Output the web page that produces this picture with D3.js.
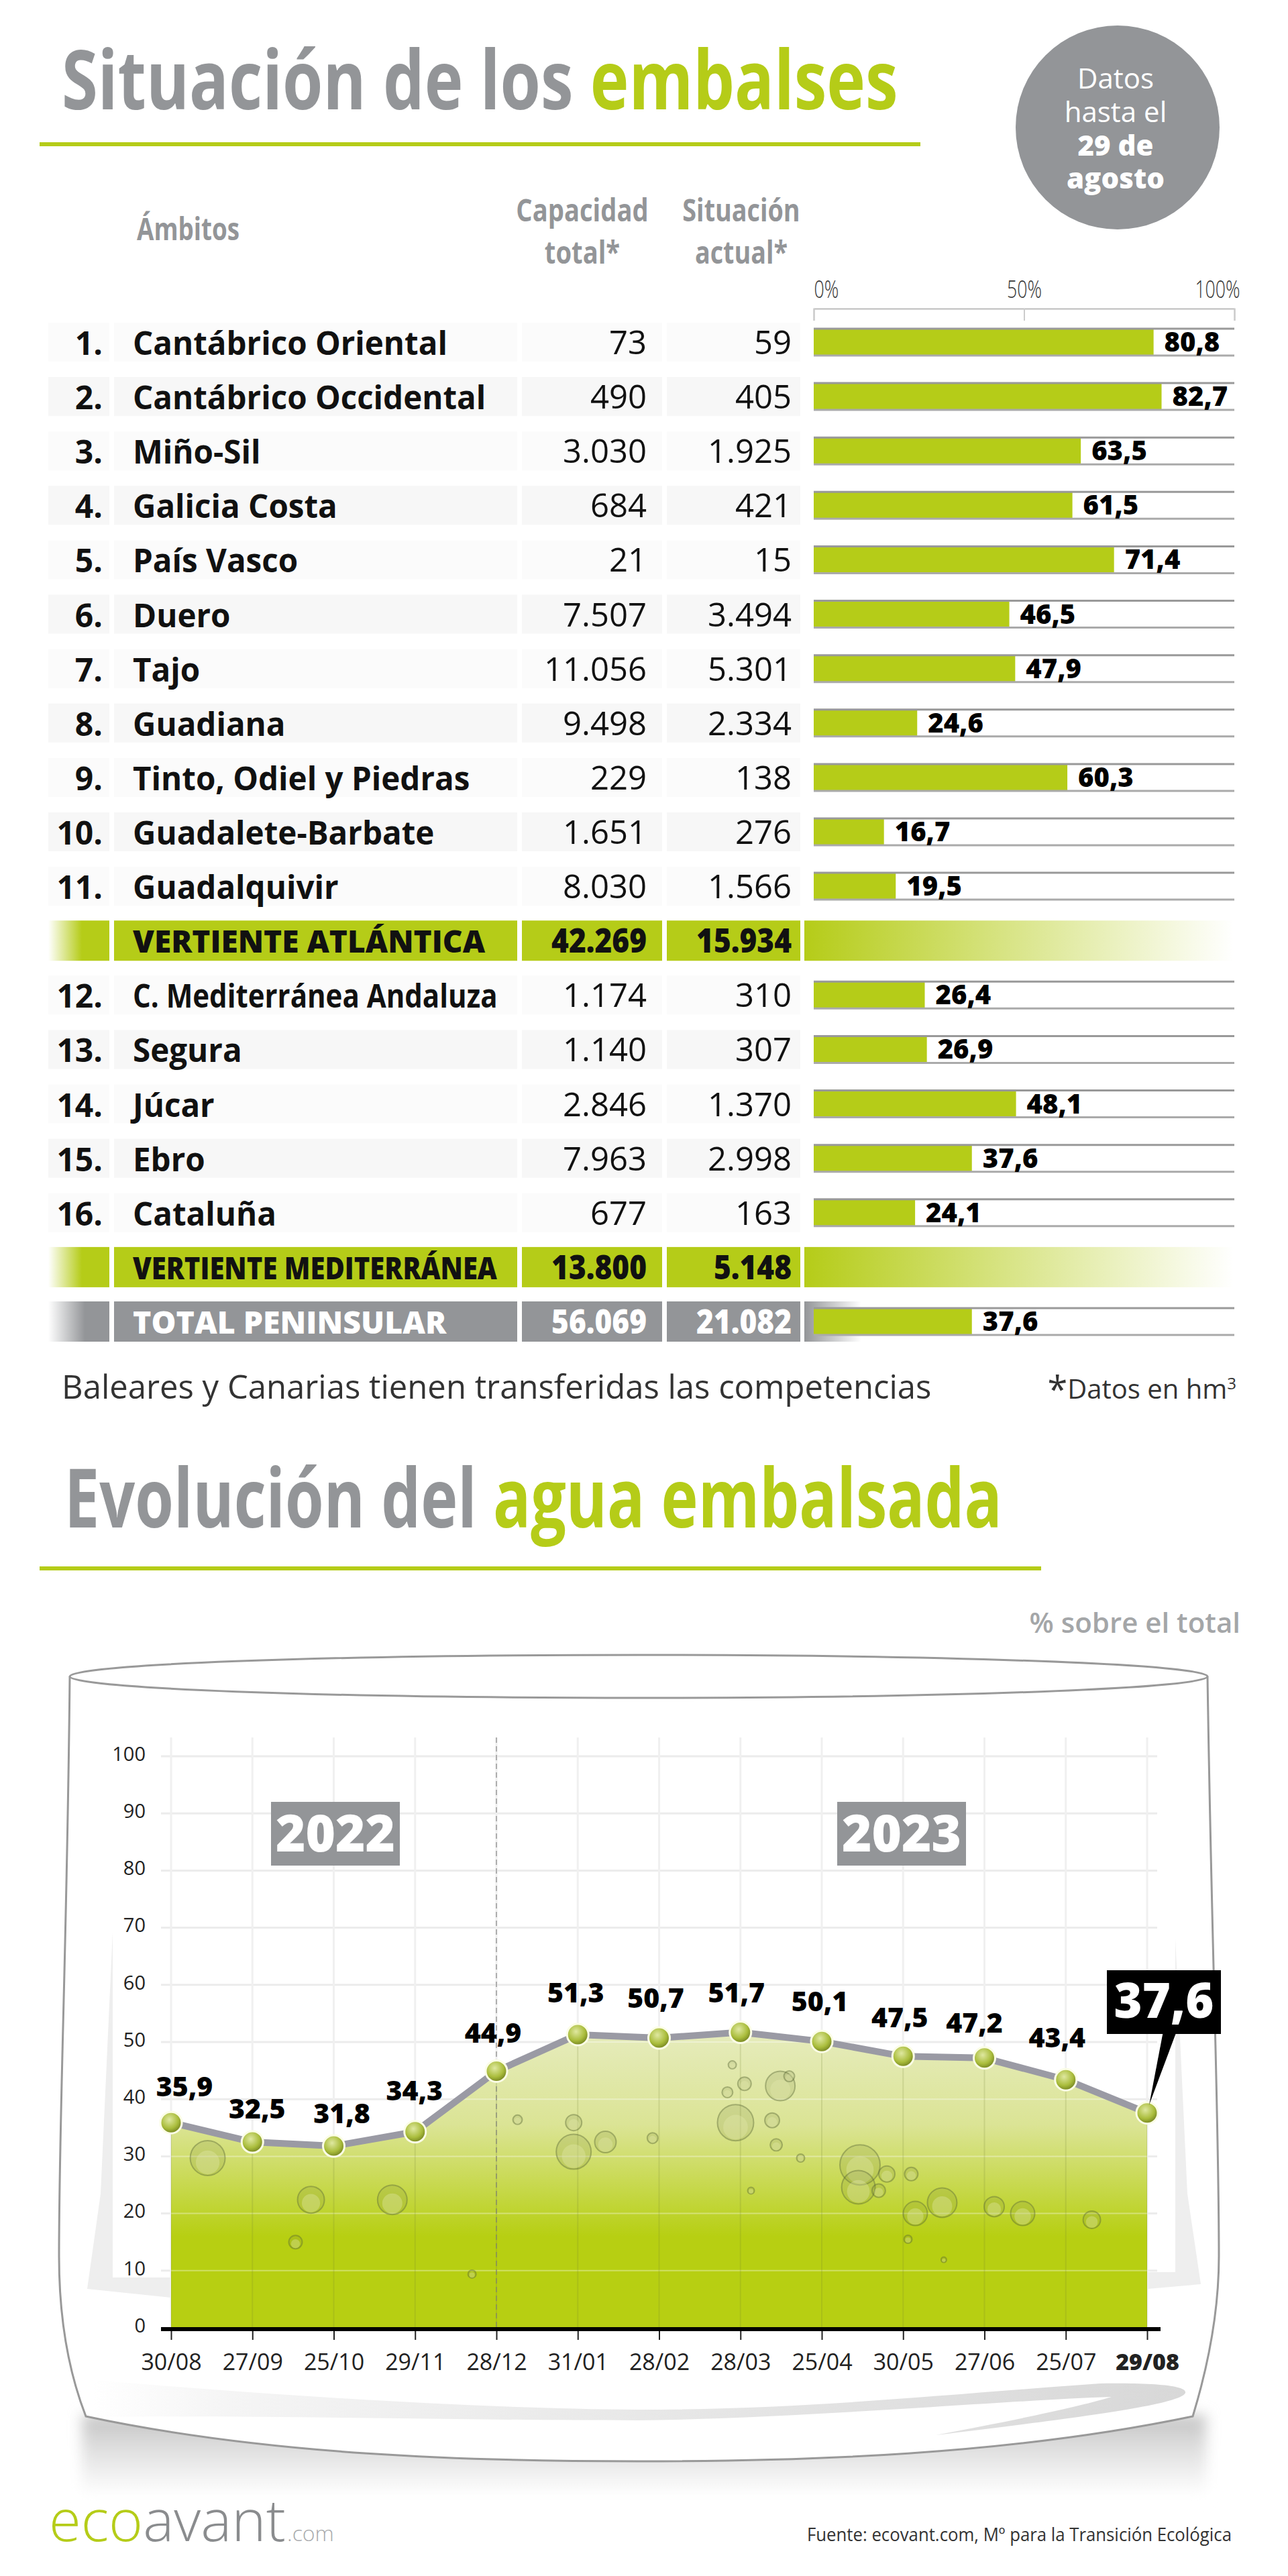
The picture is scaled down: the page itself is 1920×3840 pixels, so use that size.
<!DOCTYPE html>
<html>
<head>
<meta charset="utf-8">
<script src="https://cdn.jsdelivr.net/npm/d3@7"></script>
<style>
  html, body { margin: 0; padding: 0; background: #fff; }
  svg { display: block; }
  text { font-family: "Open Sans", sans-serif; }
</style>
</head>
<body>
<script>
// table data
var numeros = ["1.","2.","3.","4.","5.","6.","7.","8.","9.","10.","11.","","12.","13.","14.","15.","16.","",""];
var ambitos = ["Cantábrico Oriental","Cantábrico Occidental","Miño-Sil","Galicia Costa","País Vasco","Duero","Tajo","Guadiana","Tinto, Odiel y Piedras","Guadalete-Barbate","Guadalquivir","VERTIENTE ATLÁNTICA","C. Mediterránea Andaluza","Segura","Júcar","Ebro","Cataluña","VERTIENTE MEDITERRÁNEA","TOTAL PENINSULAR"];
var capacidad = [73,490,3030,684,21,7507,11056,9498,229,1651,8030,42269,1174,1140,2846,7963,677,13800,56069];
var actual = [59,405,1925,421,15,3494,5301,2334,138,276,1566,15934,310,307,1370,2998,163,5148,21082];
var porcentaje = [80.8,82.7,63.5,61.5,71.4,46.5,47.9,24.6,60.3,16.7,19.5,null,26.4,26.9,48.1,37.6,24.1,null,37.6];
var tipoFila = ["n","n","n","n","n","n","n","n","n","n","n","v","n","n","n","n","n","v","t"];

// evolution data
var fechas = ["30/08","27/09","25/10","29/11","28/12","31/01","28/02","28/03","25/04","30/05","27/06","25/07","29/08"];
var agua = [35.9,32.5,31.8,34.3,44.9,51.3,50.7,51.7,50.1,47.5,47.2,43.4,37.6];
var anios = ["2022","2023"];

// bubbles in the water: position in date steps, % level, radius
var burbujaPos = [.45,1.72,2.72,1.53,4.95,5.34,4.95,4.26,5.92,6.94,7.39,7.44,7.49,6.84,7.05,7.74,8.47,8.45,8.8,8.7,9.1,9.48,9.15,10.12,10.47,11.32,9.06,7.13,3.7,9.5,6.9,7.6];
var burbujaNivel = [29.7,22.4,22.4,15,30.8,32.5,35.9,36.4,33.2,35.9,36.3,32,42.3,41.2,42.7,29.7,28.5,24.6,26.9,24,26.9,21.9,20,21.2,20,18.9,15.5,24,9.4,11.9,46,44];
var burbujaRadio = [26,20,22,10,26,16,12,7,8,27,11,9,22,8,10,6,30,25,12,10,10,22,18,15,18,13,6,5,6,4,6,8];

var VERDE = "#b5cc18", GRIS = "#939598", NEGRO = "#111";
var locale = d3.formatLocale({decimal: ",", thousands: ".", grouping: [3], currency: ["", "€"]});
var fmtMiles = locale.format(",d"), fmtPct = locale.format(".1f");

var svg = d3.select("body").append("svg").attr("width", 1920).attr("height", 3840);
var defs = svg.append("defs");

// squeeze a text horizontally, the original uses a condensed cut
function squeeze(sel, factor) {
    sel.each(function() {
        var len = this.getComputedTextLength();
        d3.select(this).attr("textLength", len * factor).attr("lengthAdjust", "spacingAndGlyphs");
    });
    return sel;
}

function addText(parent, x, y, txt, size, weight, fill, anchor) {
    return parent.append("text").attr("x", x).attr("y", y).text(txt)
        .attr("font-size", size).attr("font-weight", weight).attr("fill", fill)
        .attr("text-anchor", anchor || "start");
}

// two coloured title in a single text
function addTitle(x, y, gris, verde, factor) {
    var t = addText(svg, x, y, "", 122, 700, GRIS);
    t.append("tspan").text(gris + " ");
    t.append("tspan").attr("fill", VERDE).text(verde);
    return squeeze(t, factor);
}

function hGradient(id, stops) {
    var g = defs.append("linearGradient").attr("id", id);
    stops.forEach(function(s) {
        g.append("stop").attr("offset", s[0]).attr("stop-color", s[1]).attr("stop-opacity", s[2]);
    });
}
hGradient("fadeVerde", [[0, VERDE, 1], [1, VERDE, 0]]);
hGradient("fadeVerdeIzq", [[0, VERDE, 0], [.55, VERDE, 1], [1, VERDE, 1]]);
hGradient("fadeGris", [[0, GRIS, 1], [1, GRIS, 0]]);
hGradient("fadeGrisIzq", [[0, GRIS, 0], [.6, GRIS, 1], [1, GRIS, 1]]);
hGradient("estela", [[0, "#ffffff", 1], [.12, "#f5f5f5", 1], [.5, "#e8e8e8", 1], [1, "#d8d8d8", 1]]);

/* ---------- titles ---------- */
addTitle(92, 163, "Situación de los", "embalses", 0.8);
svg.append("rect").attr("x", 59).attr("y", 212).attr("width", 1313).attr("height", 6).attr("fill", VERDE);

svg.append("circle").attr("cx", 1666).attr("cy", 190).attr("r", 152).attr("fill", GRIS);
addText(svg, 1663, 132, "Datos", 42, 400, "#fff", "middle");
addText(svg, 1663, 182, "hasta el", 42, 400, "#fff", "middle");
addText(svg, 1663, 232, "29 de", 42, 800, "#fff", "middle");
addText(svg, 1663, 281, "agosto", 42, 800, "#fff", "middle");

/* ---------- table ---------- */
squeeze(addText(svg, 204, 358, "Ámbitos", 46, 700, GRIS), 0.8);
squeeze(addText(svg, 868, 330, "Capacidad", 46, 700, GRIS, "middle"), 0.83);
squeeze(addText(svg, 868, 393, "total*", 46, 700, GRIS, "middle"), 0.83);
squeeze(addText(svg, 1105, 330, "Situación", 46, 700, GRIS, "middle"), 0.82);
squeeze(addText(svg, 1105, 393, "actual*", 46, 700, GRIS, "middle"), 0.82);

var xBar = d3.scaleLinear().domain([0, 100]).range([1213, 1840]);
var yRow = d3.scalePoint().domain(d3.range(ambitos.length)).range([510, 1970]);

var axisBar = svg.append("g").attr("transform", "translate(0,460)")
    .call(d3.axisTop(xBar).tickValues([0, 50, 100]).tickSize(-18).tickFormat(function(d) { return d + "%"; }));
axisBar.selectAll("path").attr("stroke", "#bbb").attr("stroke-width", 2);
axisBar.selectAll("line").attr("stroke", "#ccc").attr("stroke-width", 2);
axisBar.selectAll("text")
    .attr("y", -16).attr("font-size", 36).attr("font-weight", 300).attr("fill", "#333")
    .attr("font-family", '"Open Sans", sans-serif')
    .attr("text-anchor", function(d) { return d === 0 ? "start" : d === 50 ? "middle" : "end"; })
    .attr("x", function(d) { return d === 0 ? 0 : d === 50 ? 0 : 8; })
    .call(squeeze, 0.74);

var filas = svg.append("g").selectAll("g").data(ambitos).join("g")
    .attr("transform", function(d, i) { return "translate(0," + yRow(i) + ")"; });

// table cells behind the text
var celdas = [[72, 91], [170, 601], [778, 209], [994, 199]];
filas.each(function(d, i) {
    var g = d3.select(this), tipo = tipoFila[i];
    var h = tipo === "n" ? 58 : 60;
    var color = tipo === "v" ? VERDE : tipo === "t" ? GRIS : (i % 2 ? "#f7f7f7" : "#fbfbfb");
    celdas.forEach(function(c, k) {
        g.append("rect").attr("x", c[0]).attr("y", -h / 2).attr("width", c[1]).attr("height", h)
            .attr("fill", (k === 0 && tipo === "v") ? "url(#fadeVerdeIzq)" : (k === 0 && tipo === "t") ? "url(#fadeGrisIzq)" : color);
    });
    if (tipo === "v") {
        g.append("rect").attr("x", 1199).attr("y", -30).attr("width", 640).attr("height", 60).attr("fill", "url(#fadeVerde)");
    }
    if (tipo === "t") {
        g.append("rect").attr("x", 1199).attr("y", -30).attr("width", 85).attr("height", 60).attr("fill", "url(#fadeGris)");
    }
    var colorTexto = tipo === "t" ? "#fff" : NEGRO;
    if (tipo === "n") {
        addText(g, 153, 19, numeros[i], 48, 700, NEGRO, "end");
        addText(g, 198, 19, d, 48, 700, NEGRO).call(squeeze, i === 12 ? 0.875 : 0.99);
    } else {
        var rotulo = addText(g, 198, 18, d, 46, 800, colorTexto);
        squeeze(rotulo, tipo === "t" ? 1.01 : i === 11 ? 1 : 0.87);
    }
    addText(g, 964, 18, fmtMiles(capacidad[i]), 49, tipo === "n" ? 400 : 800, colorTexto, "end")
        .call(squeeze, tipo === "n" ? 1 : 0.9);
    addText(g, 1180, 18, fmtMiles(actual[i]), 49, tipo === "n" ? 400 : 800, colorTexto, "end")
        .call(squeeze, tipo === "n" ? 1 : 0.9);

    if (porcentaje[i] !== null) {
        g.append("rect").attr("x", xBar(0)).attr("y", -20).attr("width", xBar(100) - xBar(0)).attr("height", 40).attr("fill", "#fff");
        g.append("rect").attr("x", xBar(0)).attr("y", -20).attr("width", xBar(porcentaje[i]) - xBar(0)).attr("height", 40).attr("fill", VERDE);
        g.append("line").attr("x1", xBar(0)).attr("x2", xBar(100)).attr("y1", -20).attr("y2", -20).attr("stroke", "#999").attr("stroke-width", 3);
        g.append("line").attr("x1", xBar(0)).attr("x2", xBar(100)).attr("y1", 20).attr("y2", 20).attr("stroke", "#aaa").attr("stroke-width", 3);
        addText(g, xBar(porcentaje[i]) + 16, 14, fmtPct(porcentaje[i]), 40, 800, "#000");
    }
});

addText(svg, 92, 2085, "Baleares y Canarias tienen transferidas las competencias", 49, 400, "#333");
var nota = addText(svg, 1843, 2085, "", 40, 400, "#333", "end");
nota.append("tspan").attr("font-size", 54).attr("dy", 6).text("*");
nota.append("tspan").attr("dy", -6).text("Datos en hm");
nota.append("tspan").attr("font-size", 24).attr("dy", -14).text("3");

/* ---------- second title ---------- */
addTitle(96, 2277, "Evolución del", "agua embalsada", 0.764);
svg.append("rect").attr("x", 59).attr("y", 2335).attr("width", 1493).attr("height", 6).attr("fill", VERDE);
addText(svg, 1849, 2434, "% sobre el total", 42, 600, "#a4a6a8", "end");

/* ---------- glass ---------- */
var sombra = defs.append("linearGradient").attr("id", "sombra").attr("x1", 0).attr("x2", 0).attr("y1", 0).attr("y2", 1);
sombra.append("stop").attr("offset", 0).attr("stop-color", "#c2c2c2");
sombra.append("stop").attr("offset", .4).attr("stop-color", "#dedede");
sombra.append("stop").attr("offset", 1).attr("stop-color", "#fff");
var blur = defs.append("filter").attr("id", "difuso").attr("x", "-5%").attr("y", "-20%").attr("width", "110%").attr("height", "140%");
blur.append("feGaussianBlur").attr("stdDeviation", 10);
svg.append("rect").attr("x", 122).attr("y", 3600).attr("width", 1676).attr("height", 120)
    .attr("fill", "url(#sombra)").attr("filter", "url(#difuso)");
svg.append("path").attr("fill", "#fff").attr("stroke", "#999").attr("stroke-width", 3)
    .attr("d", "M104,2499 C100,2900 88,3150 88,3363 C88,3450 100,3530 128,3602 C400,3660 700,3669 952,3669 C1200,3669 1500,3660 1778,3602 C1800,3530 1817,3450 1817,3363 C1817,3150 1806,2900 1800,2499");
// inner glass reflections
svg.append("path").attr("fill", "#eeeeee")
    .attr("d", "M168,2880 L150,3270 L130,3412 L255,3425 L255,3395 L168,3395 Z");
svg.append("path").attr("fill", "#eeeeee")
    .attr("d", "M1752,2890 L1752,3387 L1711,3387 L1711,3412 L1790,3405 L1770,3270 Z");
svg.append("path").attr("fill", "url(#estela)")
    .attr("d", "M140,3548 C400,3570 700,3590 950,3592 C1200,3592 1400,3570 1640,3553 C1720,3552 1770,3556 1767,3567 C1760,3585 1600,3605 1395,3630 C1500,3610 1600,3590 1657,3573 C1500,3578 1200,3605 950,3608 C700,3608 400,3600 140,3603 Z");
svg.append("ellipse").attr("cx", 952).attr("cy", 2499).attr("rx", 848).attr("ry", 32)
    .attr("fill", "#fff").attr("stroke", "#999").attr("stroke-width", 3);

/* ---------- evolution chart ---------- */
var x = d3.scalePoint().domain(fechas).range([255, 1710]);
var xPaso = d3.scaleLinear().domain([0, fechas.length - 1]).range([255, 1710]);
var y = d3.scaleLinear().domain([0, 100]).range([3470, 2618]);

var degr = defs.append("linearGradient").attr("id", "agua").attr("gradientUnits", "userSpaceOnUse")
    .attr("x1", 0).attr("x2", 0).attr("y1", y(55)).attr("y2", y(16));
degr.append("stop").attr("offset", 0).attr("stop-color", "#e8edc4");
degr.append("stop").attr("offset", .5).attr("stop-color", "#dbe495");
degr.append("stop").attr("offset", 1).attr("stop-color", "#b7cf12");

var area = d3.area().x(function(d, i) { return x(fechas[i]); }).y0(y(0)).y1(function(d) { return y(d); });
var linea = d3.line().x(function(d, i) { return x(fechas[i]); }).y(function(d) { return y(d); });

function drawGrid(parent, colorH, colorV, ancho) {
    parent.append("g").selectAll("line").data(d3.range(0, 101, 10)).join("line")
        .attr("x1", 240).attr("x2", 1725)
        .attr("y1", function(d) { return y(d); }).attr("y2", function(d) { return y(d); })
        .attr("stroke", colorH).attr("stroke-width", ancho);
    parent.append("g").selectAll("line").data(fechas).join("line")
        .attr("x1", function(d) { return x(d); }).attr("x2", function(d) { return x(d); })
        .attr("y1", 2590).attr("y2", y(0))
        .attr("stroke", colorV).attr("stroke-width", ancho);
}

// grid shows pale on the white and whitish through the water
drawGrid(svg, "#ececec", "#f0f0f0", 3);
svg.append("path").datum(agua).attr("d", area).attr("fill", "url(#agua)");
defs.append("clipPath").attr("id", "recorteAgua").append("path").datum(agua).attr("d", area);
drawGrid(svg.append("g").attr("clip-path", "url(#recorteAgua)"), "rgba(255,255,255,.35)", "rgba(110,125,50,.18)", 2);

// bubbles
var burbujas = svg.append("g").selectAll("g").data(burbujaPos).join("g")
    .attr("transform", function(d, i) { return "translate(" + xPaso(d) + "," + y(burbujaNivel[i]) + ")"; });
burbujas.append("circle")
    .attr("r", function(d, i) { return burbujaRadio[i]; })
    .attr("fill", "rgba(110,125,60,.16)")
    .attr("stroke", "rgba(90,105,55,.42)")
    .attr("stroke-width", 2);
burbujas.append("circle")
    .attr("cy", function(d, i) { return burbujaRadio[i] * .25; })
    .attr("r", function(d, i) { return burbujaRadio[i] * .68; })
    .attr("fill", "rgba(228,236,175,.35)");

// dashed year change
svg.append("line").attr("x1", x(fechas[4])).attr("x2", x(fechas[4])).attr("y1", 2590).attr("y2", y(0))
    .attr("stroke", "rgba(120,120,120,.55)").attr("stroke-width", 2).attr("stroke-dasharray", "8,5");

var ejeY = svg.append("g").attr("transform", "translate(240,0)")
    .call(d3.axisLeft(y).tickValues(d3.range(0, 101, 10)).tickSize(0).tickPadding(23));
ejeY.select(".domain").remove();
ejeY.selectAll("text").attr("font-size", 29).attr("fill", "#222").attr("y", -3)
    .attr("font-family", '"Open Sans", sans-serif');

var ejeX = svg.append("g").attr("transform", "translate(0," + (y(0) + 2) + ")")
    .call(d3.axisBottom(x).tickSize(16).tickPadding(14));
ejeX.select(".domain").remove();
ejeX.selectAll("line").attr("stroke", "#222").attr("stroke-width", 2);
ejeX.selectAll("text")
    .attr("font-size", 34).attr("fill", "#222").attr("font-family", '"Open Sans", sans-serif')
    .attr("font-weight", function(d, i) { return i === fechas.length - 1 ? 800 : 400; })
    .attr("dy", "0.9em");
svg.append("line").attr("x1", 240).attr("x2", 1730).attr("y1", y(0) + 2).attr("y2", y(0) + 2)
    .attr("stroke", "#000").attr("stroke-width", 6);

svg.append("path").datum(agua).attr("d", linea).attr("fill", "none").attr("stroke", "#9a9aa4")
    .attr("stroke-width", 10).attr("stroke-linejoin", "round");

var bola = defs.append("radialGradient").attr("id", "bola").attr("cx", .42).attr("cy", .36).attr("r", .68);
bola.append("stop").attr("offset", 0).attr("stop-color", "#dfe8a0");
bola.append("stop").attr("offset", .6).attr("stop-color", "#aabd3c");
bola.append("stop").attr("offset", 1).attr("stop-color", "#6b7a1c");
svg.append("g").selectAll("circle").data(agua).join("circle")
    .attr("cx", function(d, i) { return x(fechas[i]); })
    .attr("cy", function(d) { return y(d); })
    .attr("r", 16).attr("fill", "url(#bola)").attr("stroke", "#fbfde6").attr("stroke-width", 3);

// value labels, moved by hand clear of the line
var etiquetaDx = [20,7,12,-1,-5,-3,-5,-6,-3,-5,-15,-13];
var etiquetaDy = [-39,-35,-34,-47,-42,-48,-45,-45,-45,-43,-38,-48];
svg.append("g").selectAll("text").data(agua.slice(0, -1)).join("text")
    .attr("x", function(d, i) { return x(fechas[i]) + etiquetaDx[i]; })
    .attr("y", function(d, i) { return y(d) + etiquetaDy[i]; })
    .attr("text-anchor", "middle").attr("font-size", 41).attr("font-weight", 800).attr("fill", "#000")
    .text(function(d) { return fmtPct(d); });

// highlighted last value
var ultimo = agua[agua.length - 1], xUlt = x(fechas[fechas.length - 1]), yUlt = y(ultimo);
svg.append("path").attr("fill", "#000")
    .attr("d", d3.line()([[xUlt + 24, 3028], [xUlt + 44, 3028], [xUlt + 3, yUlt - 12]]));
svg.append("rect").attr("x", 1650).attr("y", 2937).attr("width", 170).attr("height", 95).attr("fill", "#000");
addText(svg, 1735, 3008, fmtPct(ultimo), 72, 800, "#fff", "middle");

// year boxes
var xAnio = d3.scalePoint().domain(anios).range([500, 1344]);
anios.forEach(function(a) {
    svg.append("rect").attr("x", xAnio(a) - 96).attr("y", 2686).attr("width", 192).attr("height", 95).attr("fill", GRIS);
    addText(svg, xAnio(a), 2760, a, 76, 800, "#fff", "middle");
});

/* ---------- footer ---------- */
var logo = addText(svg, 73, 3788, "", 87, 300, "#888");
logo.attr("font-family", "Lato, sans-serif");
logo.append("tspan").attr("fill", VERDE).text("eco");
logo.append("tspan").attr("fill", "#8a8c8e").text("avant");
addText(svg, 428, 3788, ".com", 32, 300, "#a8aaac").attr("font-family", "Lato, sans-serif");
addText(svg, 1836, 3788, "Fuente: ecovant.com, Mº para la Transición Ecológica", 28, 400, "#333", "end").call(squeeze, 0.92);
</script>
</body>
</html>
